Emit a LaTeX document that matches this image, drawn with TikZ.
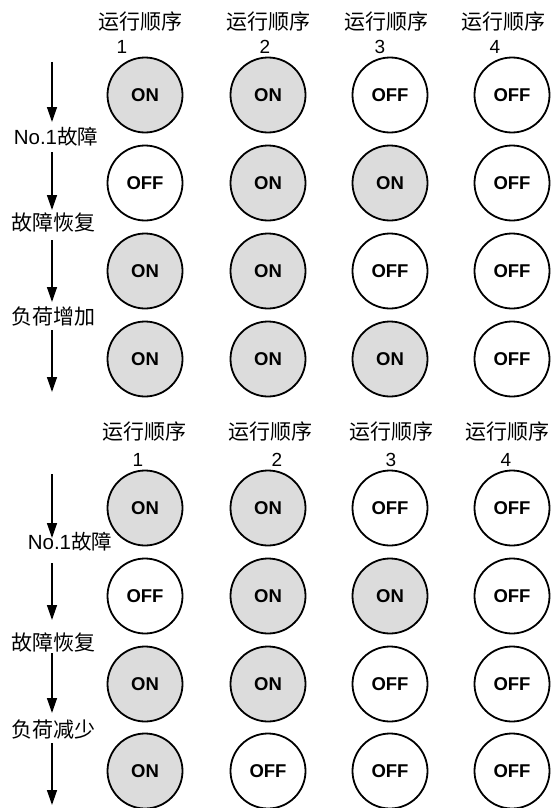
\documentclass[tikz,border=0pt]{standalone}
\usepackage{fontspec}
\setmainfont{Liberation Sans}
\newfontfamily\cjk{Noto Sans CJK SC}
\usetikzlibrary{arrows.meta}
\definecolor{swgray}{HTML}{DCDCDC}
\begin{document}
\begin{tikzpicture}[x=1pt,y=-1pt,
  sw/.style={circle,draw,line width=1.8pt,minimum size=75pt,inner sep=0pt,font=\bfseries\fontsize{18.5}{18.5}\selectfont},
  on/.style={sw,fill=swgray},
  off/.style={sw,fill=white},
  hdr/.style={font=\cjk\fontsize{21}{21}\selectfont,inner sep=0pt},
  num/.style={font=\fontsize{19}{19}\selectfont,inner sep=0pt},
  lab/.style={font=\fontsize{20.5}{20.5}\selectfont,inner sep=0pt},
  flow/.style={line width=1.4pt,-{Triangle[length=15pt,width=10pt]}}]
\useasboundingbox (0,0) rectangle (557,808);
% headers
\foreach \i/\hx/\nx in {1/140/122,2/268/265,3/386/380,4/503/495}{
  \node[hdr] (th\i) at (\hx,22) {运行顺序};
  \node[num] (tn\i) at (\nx,47) {\i};
}
\foreach \i/\hx/\nx in {1/144/138,2/270/277,3/391/391,4/507/506}{
  \node[hdr] (bh\i) at (\hx,432) {运行顺序};
  \node[num] (bn\i) at (\nx,460) {\i};
}
% switches, top block
\foreach \r/\y/\a/\b/\c/\d in {1/95/on/on/off/off,2/183/off/on/on/off,3/271/on/on/off/off,4/359/on/on/on/off}{
  \foreach \k/\x/\s in {1/145/\a,2/268/\b,3/390/\c,4/512/\d}{
    \node[\s] (t\r\k) at (\x,\y) {\ifnum\pdfstrcmp{\s}{on}=0 ON\else OFF\fi};
  }
}
% switches, bottom block
\foreach \r/\y/\a/\b/\c/\d in {1/508/on/on/off/off,2/596/off/on/on/off,3/684/on/on/off/off,4/771/on/off/off/off}{
  \foreach \k/\x/\s in {1/145/\a,2/268/\b,3/390/\c,4/512/\d}{
    \node[\s] (b\r\k) at (\x,\y) {\ifnum\pdfstrcmp{\s}{on}=0 ON\else OFF\fi};
  }
}
% labels
\node[lab] (tl1) at (56,137) {No.1{\cjk 故障}};
\node[hdr] (tl2) at (54,222) {故障恢复};
\node[hdr] (tl3) at (54,317) {负荷增加};
\node[lab] (bl1) at (70,542) {No.1{\cjk 故障}};
\node[hdr] (bl2) at (54,642) {故障恢复};
\node[hdr] (bl3) at (54,730) {负荷减少};
% arrows
\foreach \n/\s/\e in {1/62/122,2/152/210,3/240/302,4/330/392}{
  \coordinate (ts\n) at (52,\s);
  \coordinate (te\n) at (52,\e);
  \draw[flow] (ts\n) -- (te\n);
}
\foreach \n/\s/\e in {1/474/538,2/563/620,3/653/713,4/743/805}{
  \coordinate (bs\n) at (52,\s);
  \coordinate (be\n) at (52,\e);
  \draw[flow] (bs\n) -- (be\n);
}
\end{tikzpicture}
\end{document}
